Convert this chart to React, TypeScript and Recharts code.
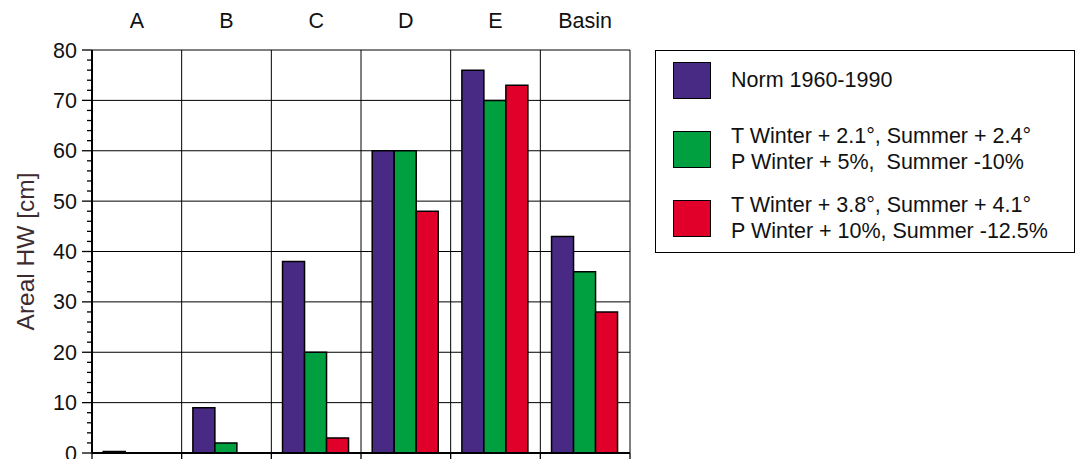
import * as React from "react";
import { Bar, BarChart, CartesianGrid, XAxis, YAxis } from "recharts";

// regions along the top
const regions = ["A", "B", "C", "D", "E", "Basin"];

// areal HW in cm
const normValues = [0.3, 9, 38, 60, 76, 43];
const scenario1Values = [0, 2, 20, 60, 70, 36];
const scenario2Values = [0, 0, 3, 48, 73, 28];

const seriesNames = [
  ["Norm 1960-1990"],
  ["T Winter + 2.1°, Summer + 2.4°", "P Winter + 5%,  Summer -10%"],
  ["T Winter + 3.8°, Summer + 4.1°", "P Winter + 10%, Summer -12.5%"],
];
const seriesColors = ["#482a85", "#00a040", "#e0002a"];
const seriesKeys = ["norm", "s1", "s2"];

const yTicks = [0, 10, 20, 30, 40, 50, 60, 70, 80];
const yMinorTicks = Array.from({ length: 41 }, (_, i) => i * 2);

const FONT = "'Liberation Sans', Arial, Helvetica, sans-serif";

const chartData = regions.map((name, i) => ({
  name,
  norm: normValues[i],
  s1: scenario1Values[i],
  s2: scenario2Values[i],
}));

function YTick(props: any) {
  const { x, y, payload } = props;
  const v = payload.value;
  const major = v % 10 === 0;
  return (
    <g>
      <line x1={x - (major ? 10 : 5)} x2={x} y1={y} y2={y} stroke="#000" strokeWidth={1.3} />
      {major && (
        <text x={x - 15} y={y + 7.5} textAnchor="end" fontSize={21.5} fontFamily={FONT} fill="#111">
          {v}
        </text>
      )}
    </g>
  );
}

function TopTick(props: any) {
  const { x, y, payload } = props;
  return (
    <text x={x} y={y - 22} textAnchor="middle" fontSize={21.5} fontFamily={FONT} fill="#111">
      {payload.value}
    </text>
  );
}

// short ticks under the axis at the region boundaries
function BoundaryTick(props: any) {
  const { x, y, width, visibleTicksCount, index } = props;
  const half = width / visibleTicksCount / 2;
  const last = index === visibleTicksCount - 1;
  return (
    <g stroke="#000" strokeWidth={1.3}>
      <line x1={x - half} x2={x - half} y1={y} y2={y + 6} />
      {last && <line x1={x + half} x2={x + half} y1={y} y2={y + 6} />}
    </g>
  );
}

function YLabel(props: any) {
  const { viewBox } = props;
  const cx = viewBox.x + 25;
  const cy = viewBox.y + viewBox.height / 2;
  return (
    <text
      x={cx}
      y={cy}
      transform={`rotate(-90, ${cx}, ${cy})`}
      textAnchor="middle"
      dominantBaseline="central"
      fontSize={24.5}
      fontFamily={FONT}
      fill="#3c2b30"
    >
      Areal HW [cm]
    </text>
  );
}

export default function App() {
  return (
    <div style={{ position: "absolute", left: 0, top: 0, width: 1077, height: 459, background: "#fff" }}>
      <BarChart
        width={1077}
        height={459}
        data={chartData}
        margin={{ top: 0, right: 447, bottom: 0, left: 0 }}
        barCategoryGap="12.5%"
        barGap={0}
      >
        <CartesianGrid
          xAxisId="cat"
          yAxisId="y"
          stroke="#000"
          strokeWidth={1}
          horizontalValues={yTicks}
          verticalCoordinatesGenerator={({ offset }: any) =>
            [...regions, ""].map((_, i) => offset.left + (i * offset.width) / regions.length)
          }
        />
        <XAxis
          xAxisId="cat"
          dataKey="name"
          orientation="top"
          height={50}
          axisLine={false}
          tickLine={false}
          tickSize={0}
          tickMargin={0}
          tick={<TopTick />}
          interval={0}
        />
        <XAxis
          xAxisId="bottom"
          dataKey="name"
          orientation="bottom"
          height={6}
          interval={0}
          tickSize={0}
          tickMargin={0}
          tickLine={false}
          tick={<BoundaryTick />}
          axisLine={{ stroke: "#000", strokeWidth: 2 }}
        />
        <YAxis
          yAxisId="y"
          width={92}
          domain={[0, 80]}
          ticks={yMinorTicks}
          interval={0}
          tickSize={0}
          tickMargin={0}
          tickLine={false}
          tick={<YTick />}
          axisLine={{ stroke: "#000", strokeWidth: 2 }}
          label={<YLabel />}
        />
        {seriesKeys.map((k, i) => (
          <Bar
            key={k}
            xAxisId="cat"
            yAxisId="y"
            dataKey={k}
            fill={seriesColors[i]}
            stroke="#000"
            strokeWidth={1.5}
            isAnimationActive={false}
          />
        ))}
      </BarChart>
      <div
        style={{
          position: "absolute",
          left: 655,
          top: 50,
          width: 420,
          height: 203,
          boxSizing: "border-box",
          border: "1.5px solid #000",
          padding: "3px 0 0 17px",
          display: "flex",
          flexDirection: "column",
          gap: 17,
          fontFamily: FONT,
          fontSize: 21.5,
          color: "#111",
        }}
      >
        {seriesNames.map((lines, i) => (
          <div key={i} style={{ display: "flex", alignItems: "center", height: 52 }}>
            <div
              style={{
                width: 38,
                height: 37,
                boxSizing: "border-box",
                background: seriesColors[i],
                border: "1.5px solid #000",
                marginRight: 20,
                flexShrink: 0,
              }}
            />
            <div style={{ lineHeight: "26px", whiteSpace: "pre" }}>
              {lines.map((l) => (
                <div key={l}>{l}</div>
              ))}
            </div>
          </div>
        ))}
      </div>
    </div>
  );
}
